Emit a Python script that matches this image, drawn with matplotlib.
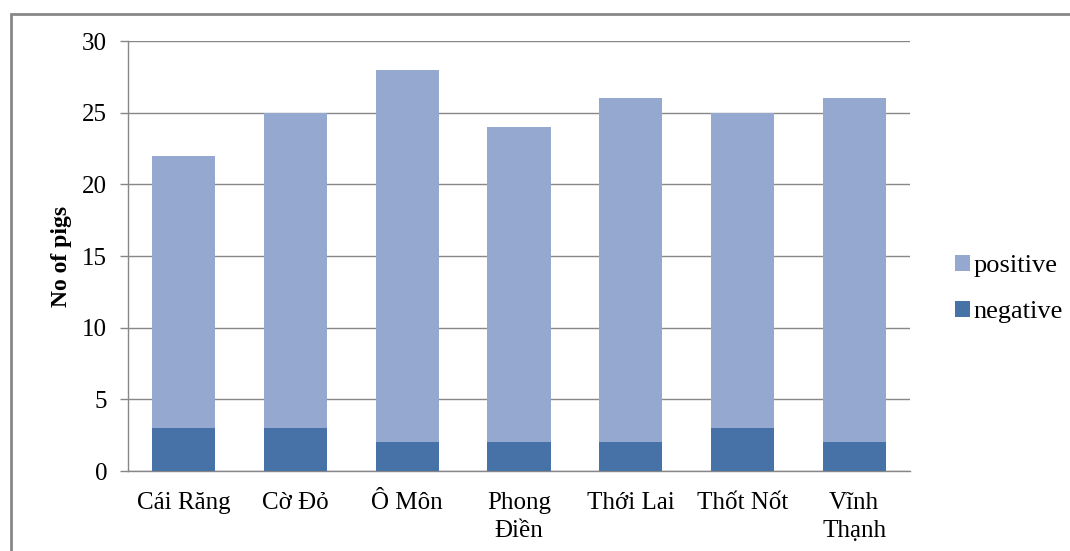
import matplotlib.pyplot as plt
import numpy as np
from matplotlib.patches import Rectangle

districts = ["Cái Răng", "Cờ Đỏ", "Ô Môn", "Phong\nĐiền", "Thới Lai", "Thốt Nốt", "Vĩnh\nThạnh"]
negative = [3, 3, 2, 2, 2, 3, 2]
positive = [19, 22, 26, 22, 24, 22, 24]

c_pos = "#95A9D0"
c_neg = "#4672A7"
c_line = "#878787"

plt.rcParams["font.family"] = ["Liberation Serif", "DejaVu Serif"]

fig = plt.figure(figsize=(10.7, 5.51), dpi=100)
ax = fig.add_axes([128 / 1070, 80 / 551, 782 / 1070, 430 / 551])

# outer chart frame, only top and left edges fall inside the image
fig.patches.append(Rectangle((11 / 1070, -0.05), 1.2, (551 - 14) / 551 + 0.05,
                             transform=fig.transFigure, fill=False,
                             edgecolor=c_line, linewidth=2))

x = np.arange(len(districts))
w = 0.565
ax.bar(x, negative, w, color=c_neg, label="negative", zorder=3)
ax.bar(x, positive, w, bottom=negative, color=c_pos, label="positive", zorder=3)

ax.set_xlim(-0.5, len(districts) - 0.5)
ax.set_ylim(0, 30)
ax.set_yticks(range(0, 31, 5))
ax.set_xticks(x)
ax.set_xticklabels(districts, fontsize=18, linespacing=1.35)
ax.tick_params(axis="y", labelsize=18, length=6, color=c_line, width=1, pad=9)
ax.tick_params(axis="x", length=0, pad=15)
ax.grid(axis="y", color=c_line, linewidth=1, zorder=0)

for s in ["top", "right"]:
    ax.spines[s].set_visible(False)
for s in ["left", "bottom"]:
    ax.spines[s].set_color(c_line)
    ax.spines[s].set_linewidth(1)

ax.set_ylabel("No of pigs", fontsize=17, fontweight="bold", labelpad=7)

h, l = ax.get_legend_handles_labels()
fig.legend(h[::-1], l[::-1], loc="center left", bbox_to_anchor=(942 / 1070, 1 - 289 / 551),
           frameon=False, fontsize=19, handlelength=0.55, handleheight=0.55,
           handletextpad=0.15, labelspacing=0.9, borderpad=0)

fig.savefig("out.png", dpi=100)
